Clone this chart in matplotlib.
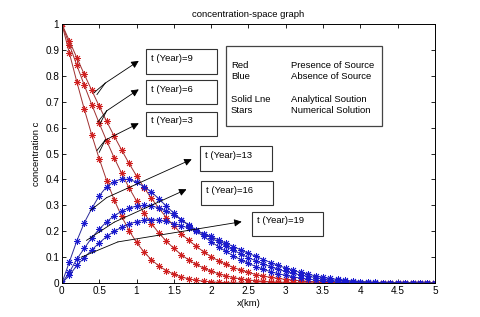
import numpy as np
import matplotlib
matplotlib.use('Agg')
import matplotlib.pyplot as plt
from matplotlib.patches import Rectangle

plt.rcParams['font.family'] = ['Liberation Sans', 'DejaVu Sans']

# distance (km), sampled every 0.1 km
x = np.round(np.arange(0, 5.01, 0.1), 2)

# presence of source (red)
red_t3 = [1, .888, .777, .671, .572, .480, .396, .322, .258, .203, .157, .120, .090, .066, .048,
          .034, .024, .016, .011, .007, .005, .003, .002, .001] + [0] * 27
red_t6 = [1, .920, .841, .764, .689, .617, .549, .484, .424, .368, .317, .271, .230, .193, .162,
          .134, .110, .089, .072, .058, .046, .036, .028, .021, .016, .012, .009, .007, .005, .004,
          .003, .002, .001, .001] + [0] * 17
red_t9 = [1, .935, .870, .806, .744, .683, .624, .568, .514, .462, .414, .369, .327, .289, .253,
          .221, .191, .165, .142, .121, .102, .086, .072, .060, .050, .041, .033, .027, .022, .018,
          .014, .011, .009, .007, .005, .004, .003, .002, .002, .001, .001] + [0] * 10

# absence of source (blue)
blue_t13 = [0, .082, .163, .233, .288, .337, .372, .392, .402, .400, .390, .372, .352, .325, .297,
            .270, .245, .222, .200, .180, .160, .140, .122, .105, .090, .076, .064, .053, .044,
            .036, .030, .024, .019, .015, .012, .009, .007, .005, .004, .003, .002, .001, .001,
            .001] + [0] * 7
blue_t16 = [0, .042, .093, .134, .175, .208, .237, .260, .277, .290, .297, .300, .298, .290, .278,
            .263, .245, .225, .205, .190, .175, .158, .142, .127, .112, .098, .086, .074, .063,
            .053, .045, .038, .031, .026, .021, .017, .013, .010, .008, .006, .005, .003, .002,
            .002, .001, .001, .001] + [0] * 4
blue_t19 = [0, .030, .068, .098, .128, .155, .180, .200, .215, .228, .237, .243, .245, .243, .238,
            .230, .222, .212, .200, .190, .180, .167, .154, .141, .128, .115, .103, .091, .079,
            .068, .058, .049, .041, .034, .028, .023, .018, .014, .011, .008, .006, .005, .003,
            .002, .002, .001, .001, .001] + [0] * 3

red_curves = [red_t3, red_t6, red_t9]
blue_curves = [blue_t13, blue_t16, blue_t19]

# annotation labels, box corners (x0, y0, x1, y1) and arrow points (tails, kink, head)
labels = ['t (Year)=9', 't (Year)=6', 't (Year)=3', 't (Year)=13', 't (Year)=16', 't (Year)=19']
boxes = [(1.122, 0.807, 2.082, 0.902), (1.122, 0.690, 2.082, 0.783), (1.122, 0.568, 2.082, 0.661),
         (1.850, 0.432, 2.815, 0.529), (1.863, 0.301, 2.828, 0.394), (2.543, 0.181, 3.503, 0.275)]
arrows = [
    ([(0.43, 0.735), (0.47, 0.728)], (0.58, 0.772), (1.03, 0.858)),
    ([(0.48, 0.622), (0.51, 0.615)], (0.60, 0.665), (1.03, 0.748)),
    ([(0.47, 0.512), (0.50, 0.505)], (0.58, 0.552), (1.03, 0.617)),
    ([(0.38, 0.280)], (0.60, 0.330), (1.74, 0.478)),
    ([(0.33, 0.165)], (0.70, 0.235), (1.67, 0.362)),
    ([(0.26, 0.100)], (0.75, 0.159), (2.41, 0.237)),
]

legend_left = ['Red', 'Blue', 'Solid Lne', 'Stars']
legend_right = ['Presence of Source', 'Absence of Source', 'Analytical Soution', 'Numerical Solution']
legend_y = [0.842, 0.797, 0.710, 0.666]

fig = plt.figure(figsize=(4.8, 3.17), dpi=100)
ax = fig.add_axes([0.129, 0.107, 0.777, 0.817])

star = (8, 2, 0)
for c in red_curves:
    ax.plot(x, c, '-', color='#a03030', lw=0.7)
    ax.plot(x, c, linestyle='none', marker=star, ms=5, mec='#d02020', mew=0.6)
for c in blue_curves:
    ax.plot(x, c, '-', color='#2a2a9a', lw=0.7)
    ax.plot(x, c, linestyle='none', marker=star, ms=5, mec='#1a1ad0', mew=0.6)

for lab, (x0, y0, x1, y1), (tails, kink, head) in zip(labels, boxes, arrows):
    ax.add_patch(Rectangle((x0, y0), x1 - x0, y1 - y0, fill=True, fc='white',
                           ec='#333333', lw=0.8, zorder=5))
    ax.text(x0 + 0.07, y1 - 0.035, lab, fontsize=6.8, va='center', ha='left', zorder=6)
    for t in tails:
        ax.plot([t[0], kink[0]], [t[1], kink[1]], color='k', lw=0.6, zorder=4)
    ax.annotate('', xy=head, xytext=kink,
                arrowprops=dict(arrowstyle='-|>', color='k', lw=0.6,
                                mutation_scale=11, shrinkA=0, shrinkB=0), zorder=4)

ax.add_patch(Rectangle((2.194, 0.607), 4.285 - 2.194, 0.917 - 0.607, fill=True, fc='white',
                       ec='#444444', lw=0.9, zorder=5))
for a, b, yy in zip(legend_left, legend_right, legend_y):
    ax.text(2.265, yy, a, fontsize=6.8, va='center', ha='left', zorder=6)
    ax.text(3.076, yy, b, fontsize=6.8, va='center', ha='left', zorder=6)

ax.set_xlim(0, 5)
ax.set_ylim(0, 1)
ax.set_xticks(np.arange(0, 5.01, 0.5))
ax.set_xticklabels(['0', '0.5', '1', '1.5', '2', '2.5', '3', '3.5', '4', '4.5', '5'])
ax.set_yticks(np.arange(0, 1.01, 0.1))
ax.set_yticklabels(['0', '0.1', '0.2', '0.3', '0.4', '0.5', '0.6', '0.7', '0.8', '0.9', '1'])
ax.tick_params(direction='in', length=3, width=0.6, labelsize=7.2, top=True, right=True, pad=2)
for s in ax.spines.values():
    s.set_linewidth(0.7)

ax.set_title('concentration-space graph', fontsize=6.8, pad=5)
ax.set_xlabel('x(km)', fontsize=6.8, labelpad=2)
ax.set_ylabel('concentration c', fontsize=6.8, labelpad=3)

plt.savefig('out.png', dpi=100)
